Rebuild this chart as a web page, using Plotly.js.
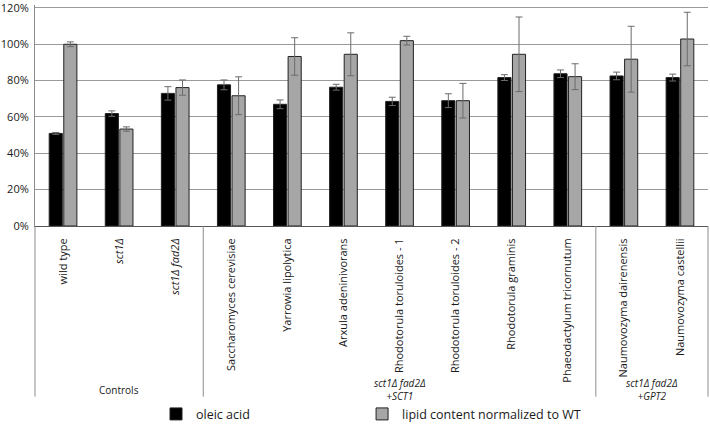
<!DOCTYPE html>
<html>
<head>
<meta charset="utf-8">
<script src="https://cdn.plot.ly/plotly-3.0.1.min.js"></script>
<style>html,body{margin:0;padding:0;background:#fff;}#chart{width:710px;height:424px;}</style>
</head>
<body>
<div id="chart"></div>
<script>
const categories = ["wild type","sct1Δ","sct1Δ fad2Δ","Saccharomyces cerevisiae","Yarrowia lipolytica","Arxula adeninivorans","Rhodotorula toruloides - 1","Rhodotorula toruloides - 2","Rhodotorula graminis","Phaeodactylum tricornutum","Naumovozyma dairenensis","Naumovozyma castellii"];
const tickLabels = ["wild type","<i>sct1Δ</i>","<i>sct1Δ fad2Δ</i>","Saccharomyces cerevisiae","Yarrowia lipolytica","Arxula adeninivorans","Rhodotorula toruloides - 1","Rhodotorula toruloides - 2","Rhodotorula graminis","Phaeodactylum tricornutum","Naumovozyma dairenensis","Naumovozyma castellii"];
const oleicAcid = [0.509,0.618,0.729,0.776,0.669,0.763,0.685,0.689,0.816,0.837,0.825,0.816];
const oleicErr  = [0.005,0.015,0.037,0.027,0.024,0.016,0.023,0.038,0.016,0.021,0.021,0.019];
const lipidContent = [0.999,0.533,0.761,0.716,0.932,0.944,1.019,0.689,0.944,0.821,0.917,1.028];
const lipidErr     = [0.013,0.012,0.042,0.104,0.103,0.118,0.024,0.095,0.205,0.071,0.181,0.147];
const groupNames = ["Controls","<i>sct1Δ fad2Δ</i><br><i>+SCT1</i>","<i>sct1Δ fad2Δ</i><br><i>+GPT2</i>"];
const groupSizes = [3,7,2];
const seriesNames = ["oleic acid","lipid content normalized to WT"];
const yTickVals = [0,0.2,0.4,0.6,0.8,1.0,1.2];
const yTickText = ["0%","20%","40%","60%","80%","100%","120%"];

const FONT = "'Open Sans', sans-serif";
const N = categories.length;

const traces = [
  {type:"bar", name:seriesNames[0], x:categories, y:oleicAcid, legend:"legend",
   marker:{color:"#000000", line:{color:"#222222", width:1}},
   error_y:{type:"data", array:oleicErr, visible:true, color:"#6b6b6b", thickness:1, width:3.5}},
  {type:"bar", name:seriesNames[1], x:categories, y:lipidContent, legend:"legend2",
   marker:{color:"#a6a6a6", line:{color:"#222222", width:1}},
   error_y:{type:"data", array:lipidErr, visible:true, color:"#6b6b6b", thickness:1, width:3.5}}
];

const shapes = [];
const annotations = [];
let start = 0;
const bottomY = -0.772;
shapes.push({type:"line", xref:"paper", yref:"paper", x0:0, x1:0, y0:0, y1:bottomY, line:{color:"#8c8c8c", width:1}});
groupSizes.forEach((sz, gi) => {
  const end = start + sz;
  shapes.push({type:"line", xref:"paper", yref:"paper", x0:end/N, x1:end/N, y0:0, y1:bottomY, line:{color:"#8c8c8c", width:1}});
  annotations.push({xref:"paper", yref:"paper", x:(start+end)/2/N, y:-0.742,
    yanchor:"middle", xanchor:"center", showarrow:false, text:groupNames[gi],
    font:{family:FONT, size:10, color:"#1a1a1a"}});
  start = end;
});

const legendBase = {orientation:"h", xanchor:"left", y:-0.852, yanchor:"middle",
  font:{family:FONT, size:12.5, color:"#1a1a1a"}, bgcolor:"rgba(0,0,0,0)"};

const layout = {
  width:710, height:424,
  margin:{l:35, r:2, t:5, b:198, autoexpand:false},
  paper_bgcolor:"#ffffff", plot_bgcolor:"#ffffff",
  font:{family:FONT, size:11, color:"#1a1a1a"},
  barmode:"group", bargap:0.48, bargroupgap:0.1,
  showlegend:true,
  legend:Object.assign({}, legendBase, {x:0.1798}),
  legend2:Object.assign({}, legendBase, {x:0.486}),
  xaxis:{type:"category", tickvals:categories, ticktext:tickLabels, tickangle:-90,
         range:[-0.5, N-0.5], showgrid:false, zeroline:false, showline:true, linecolor:"#555555", linewidth:1,
         ticks:"", ticklabelstandoff:7, tickfont:{family:FONT, size:11, color:"#1a1a1a"}, automargin:false, fixedrange:true},
  yaxis:{range:[0,1.215], tickmode:"array", tickvals:yTickVals, ticktext:yTickText, showgrid:true, gridcolor:"#9a9a9a", gridwidth:1,
         zeroline:false, showline:true, linecolor:"#8c8c8c", linewidth:1, ticks:"", ticklabelstandoff:3,
         ticklabeloverflow:"allow",
         tickfont:{family:FONT, size:11, color:"#1a1a1a"}, automargin:false, fixedrange:true},
  shapes:shapes,
  annotations:annotations
};

Plotly.newPlot("chart", traces, layout, {displayModeBar:false, staticPlot:true});
</script>
</body>
</html>
